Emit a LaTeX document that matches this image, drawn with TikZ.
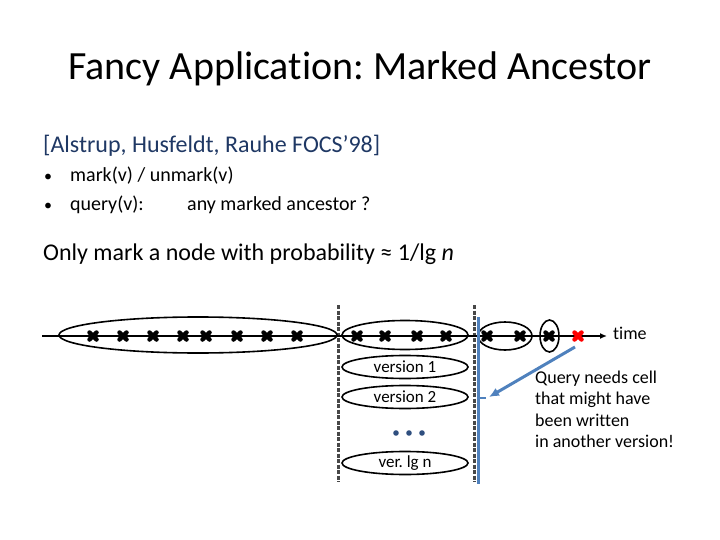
\documentclass[tikz,border=0pt]{standalone}
\usepackage{fontspec}
\setmainfont{Carlito}[Ligatures=NoCommon]
\usetikzlibrary{arrows.meta,shapes.geometric}
\definecolor{citeblue}{RGB}{31,56,100}
\definecolor{steel}{RGB}{79,129,189}
\definecolor{dotblue}{RGB}{47,79,127}
\frenchspacing
\begin{document}
\begin{tikzpicture}[x=1pt,y=-1pt,
  mk/.style={line width=4.5pt,line cap=round},
  vline/.style={draw=black!72,line width=3pt,dash pattern=on 4pt off 1.5pt},
  txt/.style={inner sep=0pt,anchor=base west},
  verlab/.style={draw,line width=1.6pt,ellipse,minimum width=126pt,minimum height=23pt,inner sep=0pt,font=\fontsize{17}{20}\selectfont}
]
\useasboundingbox (0,0) rectangle (720,540);
% title and text
\node[inner sep=0pt,anchor=base] (title) at (360,80) {\fontsize{40}{44}\selectfont Fancy Application: Marked Ancestor};
\node[txt,text=citeblue] (cite) at (43,153) {\fontsize{24}{28}\selectfont [Alstrup, Husfeldt, Rauhe FOCS’98]};
\node[txt] (b1) at (44,182) {\fontsize{16}{20}\selectfont •};
\node[txt] (t1) at (70,182) {\fontsize{20}{22}\selectfont mark(v) / unmark(v)};
\node[txt] (b2) at (44,211) {\fontsize{16}{20}\selectfont •};
\node[txt] (t2) at (70,211) {\fontsize{20}{22}\selectfont query(v):};
\node[txt] (t3) at (187,211) {\fontsize{20}{22}\selectfont any marked ancestor ?};
\node[txt] (only) at (43,260) {\fontsize{24}{28}\selectfont Only mark a node with probability ≈ 1/lg \textit{n}};
% dashed separators
\coordinate (d1t) at (338,305); \coordinate (d1b) at (338,482);
\coordinate (d2t) at (474,305); \coordinate (d2b) at (474,482);
\draw[vline] (d1t) -- (d1b);
\draw[vline] (d2t) -- (d2b);
% timeline
\coordinate (tl) at (42,336); \coordinate (tr) at (607,336);
\draw[line width=1.6pt,-{Latex[length=7pt,width=6pt]}] (tl) -- (tr);
\node[txt] (time) at (613,339) {\fontsize{18}{20}\selectfont time};
% ellipses on timeline
\draw[line width=1.6pt] (198,335) ellipse (139pt and 18pt);
\draw[line width=1.6pt] (405,335) ellipse (63pt and 14.5pt);
\draw[line width=1.6pt] (505,336) ellipse (27pt and 14pt);
\draw[line width=1.6pt] (549.5,336) ellipse (9.5pt and 16pt);
% crosses
\foreach \x in {93,123,153,183,206,237,267,297,357,385,417,446,487,520,549}{
  \draw[mk] (\x-3.5,332.5) -- (\x+3.5,339.5);
  \draw[mk] (\x-3.5,339.5) -- (\x+3.5,332.5);
}
\draw[mk,red] (574.5,332.5) -- (581.5,339.5);
\draw[mk,red] (574.5,339.5) -- (581.5,332.5);
\coordinate (red) at (575,347);
% versions
\node[verlab] (v1) at (405,367) {version 1};
\node[verlab] (v2) at (405,397) {version 2};
\node[verlab] (vn) at (405,463) {ver. lg n};
\foreach \x in {396,409,422}{\fill[dotblue] (\x,433) circle (2.8pt);}
% blue bar and arrow
\coordinate (bt) at (478,317); \coordinate (bb) at (478,484);
\draw[steel,line width=3pt] (bt) -- (bb);
\coordinate (tk) at (486,398);
\draw[steel,line width=2.5pt] (478,398) -- (tk);
\coordinate (ah) at (489,397);
\draw[steel,line width=3pt,-{Latex[length=10pt,width=9pt]}] (red) -- (ah);
% note
\node[txt] (q1) at (535,383) {\fontsize{18}{20}\selectfont Query needs cell};
\node[txt] (q2) at (535,404.5) {\fontsize{18}{20}\selectfont that might have};
\node[txt] (q3) at (535,426) {\fontsize{18}{20}\selectfont been written};
\node[txt] (q4) at (535,447.5) {\fontsize{18}{20}\selectfont in another version!};
\end{tikzpicture}
\end{document}
